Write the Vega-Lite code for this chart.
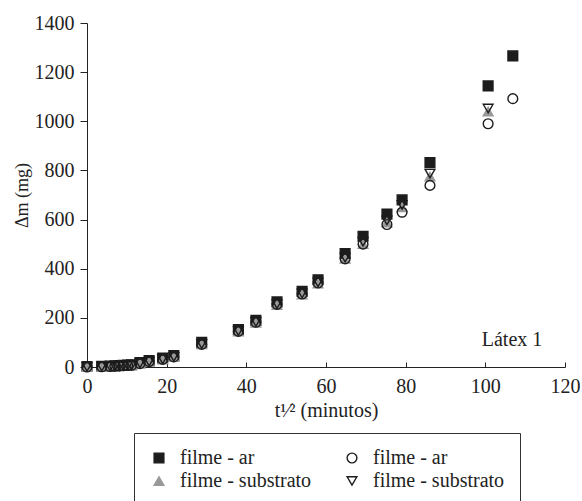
{
  "$schema": "https://vega.github.io/schema/vega-lite/v6.json",
  "autosize": {"type": "none"},
  "width": 478,
  "height": 344,
  "padding": {"left": 87, "top": 23, "right": 17, "bottom": 134},
  "background": "white",
  "config": {
    "view": {"stroke": null},
    "font": "Liberation Serif",
    "axis": {"labelFont": "Liberation Serif", "titleFont": "Liberation Serif", "labelColor": "#222", "titleColor": "#222", "domainColor": "#222", "tickColor": "#222", "grid": false, "titleFontWeight": "normal", "labelFontSize": 20},
    "legend": {"labelFont": "Liberation Serif"},
    "text": {"font": "Liberation Serif"}
  },
  "datasets": {
    "pts": [
      {"x": 0, "y": 2, "s": "a"}, {"x": 3.7, "y": 3, "s": "a"}, {"x": 5.8, "y": 4, "s": "a"}, {"x": 7.0, "y": 5, "s": "a"}, {"x": 8.1, "y": 6, "s": "a"}, {"x": 9.1, "y": 7, "s": "a"}, {"x": 10.2, "y": 8, "s": "a"}, {"x": 11.2, "y": 9, "s": "a"}, {"x": 13.3, "y": 18, "s": "a"}, {"x": 15.6, "y": 26, "s": "a"}, {"x": 19.0, "y": 36, "s": "a"}, {"x": 21.8, "y": 46, "s": "a"}, {"x": 28.8, "y": 100, "s": "a"}, {"x": 38.0, "y": 152, "s": "a"}, {"x": 42.4, "y": 190, "s": "a"}, {"x": 47.7, "y": 265, "s": "a"}, {"x": 54.0, "y": 308, "s": "a"}, {"x": 58.0, "y": 355, "s": "a"}, {"x": 64.8, "y": 462, "s": "a"}, {"x": 69.3, "y": 532, "s": "a"}, {"x": 75.3, "y": 622, "s": "a"}, {"x": 79.1, "y": 680, "s": "a"}, {"x": 86.1, "y": 832, "s": "a"}, {"x": 100.7, "y": 1144, "s": "a"}, {"x": 106.9, "y": 1266, "s": "a"},
      {"x": 0, "y": 0, "s": "c"}, {"x": 3.7, "y": 1, "s": "c"}, {"x": 5.8, "y": 2, "s": "c"}, {"x": 7.0, "y": 3, "s": "c"}, {"x": 8.1, "y": 4, "s": "c"}, {"x": 9.1, "y": 5, "s": "c"}, {"x": 10.2, "y": 6, "s": "c"}, {"x": 11.2, "y": 7, "s": "c"}, {"x": 13.3, "y": 14, "s": "c"}, {"x": 15.6, "y": 21, "s": "c"}, {"x": 19.0, "y": 30, "s": "c"}, {"x": 21.8, "y": 40, "s": "c"}, {"x": 28.8, "y": 92, "s": "c"}, {"x": 38.0, "y": 144, "s": "c"}, {"x": 42.4, "y": 180, "s": "c"}, {"x": 47.7, "y": 252, "s": "c"}, {"x": 54.0, "y": 295, "s": "c"}, {"x": 58.0, "y": 340, "s": "c"}, {"x": 64.8, "y": 440, "s": "c"}, {"x": 69.3, "y": 500, "s": "c"}, {"x": 75.3, "y": 588, "s": "c"}, {"x": 79.1, "y": 650, "s": "c"}, {"x": 86.1, "y": 775, "s": "c"}, {"x": 100.7, "y": 1040, "s": "c"},
      {"x": 0, "y": 0, "s": "d"}, {"x": 3.7, "y": 1, "s": "d"}, {"x": 5.8, "y": 2, "s": "d"}, {"x": 7.0, "y": 3, "s": "d"}, {"x": 8.1, "y": 4, "s": "d"}, {"x": 9.1, "y": 5, "s": "d"}, {"x": 10.2, "y": 6, "s": "d"}, {"x": 11.2, "y": 7, "s": "d"}, {"x": 13.3, "y": 15, "s": "d"}, {"x": 15.6, "y": 22, "s": "d"}, {"x": 19.0, "y": 31, "s": "d"}, {"x": 21.8, "y": 41, "s": "d"}, {"x": 28.8, "y": 93, "s": "d"}, {"x": 38.0, "y": 146, "s": "d"}, {"x": 42.4, "y": 183, "s": "d"}, {"x": 47.7, "y": 256, "s": "d"}, {"x": 54.0, "y": 299, "s": "d"}, {"x": 58.0, "y": 344, "s": "d"}, {"x": 64.8, "y": 445, "s": "d"}, {"x": 69.3, "y": 510, "s": "d"}, {"x": 75.3, "y": 597, "s": "d"}, {"x": 79.1, "y": 660, "s": "d"}, {"x": 86.1, "y": 787, "s": "d"}, {"x": 100.7, "y": 1052, "s": "d"},
      {"x": 0, "y": 0, "s": "b"}, {"x": 3.7, "y": 1, "s": "b"}, {"x": 5.8, "y": 2, "s": "b"}, {"x": 7.0, "y": 3, "s": "b"}, {"x": 8.1, "y": 4, "s": "b"}, {"x": 9.1, "y": 5, "s": "b"}, {"x": 10.2, "y": 6, "s": "b"}, {"x": 11.2, "y": 7, "s": "b"}, {"x": 13.3, "y": 14, "s": "b"}, {"x": 15.6, "y": 22, "s": "b"}, {"x": 19.0, "y": 31, "s": "b"}, {"x": 21.8, "y": 41, "s": "b"}, {"x": 28.8, "y": 92, "s": "b"}, {"x": 38.0, "y": 145, "s": "b"}, {"x": 42.4, "y": 182, "s": "b"}, {"x": 47.7, "y": 255, "s": "b"}, {"x": 54.0, "y": 297, "s": "b"}, {"x": 58.0, "y": 342, "s": "b"}, {"x": 64.8, "y": 440, "s": "b"}, {"x": 69.3, "y": 500, "s": "b"}, {"x": 75.3, "y": 580, "s": "b"}, {"x": 79.1, "y": 630, "s": "b"}, {"x": 86.1, "y": 739, "s": "b"}, {"x": 100.7, "y": 990, "s": "b"}, {"x": 106.9, "y": 1092, "s": "b"}
    ],
    "note": [{"x": 106.7, "y": 109, "label": "Látex 1"}]
  },
  "layer": [
    {
      "data": {"name": "pts"},
      "mark": {"type": "point", "size": 95, "strokeWidth": 1.4, "opacity": 1},
      "encoding": {
        "x": {"field": "x", "type": "quantitative", "scale": {"domain": [0, 120], "nice": false, "zero": false},
          "axis": {"values": [0, 10, 20, 30, 40, 50, 60, 70, 80, 90, 100, 110, 120], "labelExpr": "datum.value % 20 == 0 ? datum.label : ''", "tickSize": -5, "labelPadding": 14, "labelFont": "Liberation Serif", "titleFont": "Liberation Serif", "labelFontSize": 20, "title": "t¹⁄² (minutos)", "titleFontSize": 20, "titlePadding": 4, "labelFlush": false}},
        "y": {"field": "y", "type": "quantitative", "scale": {"domain": [0, 1400], "nice": false, "zero": false},
          "axis": {"values": [0, 100, 200, 300, 400, 500, 600, 700, 800, 900, 1000, 1100, 1200, 1300, 1400], "labelExpr": "datum.value % 200 == 0 ? datum.label : ''", "format": "d", "tickSize": 7, "labelPadding": 6, "labelFont": "Liberation Serif", "titleFont": "Liberation Serif", "labelFontSize": 20, "title": "Δm (mg)", "titleFontSize": 18, "titleX": -65, "titleY": 172, "titleBaseline": "middle", "labelFlush": false}},
        "shape": {"field": "s", "type": "nominal", "scale": {"domain": ["a", "b", "c", "d"], "range": ["square", "circle", "triangle-up", "triangle-down"]},
          "legend": {"title": null, "orient": "none", "legendX": 47, "legendY": 410, "columns": 2, "direction": "horizontal", "strokeColor": "#333", "padding": 15, "columnPadding": 30, "rowPadding": 3, "labelFont": "Liberation Serif", "labelFontSize": 20, "labelOffset": 11, "symbolSize": 95, "symbolStrokeWidth": 1.4, "labelColor": "#222", "labelExpr": "datum.value == 'a' || datum.value == 'b' ? 'filme - ar' : 'filme - substrato'"}},
        "fill": {"field": "s", "type": "nominal", "scale": {"domain": ["a", "b", "c", "d"], "range": ["#1c1c1c", "transparent", "#999999", "transparent"]}},
        "stroke": {"field": "s", "type": "nominal", "scale": {"domain": ["a", "b", "c", "d"], "range": ["#1c1c1c", "#1c1c1c", "#999999", "#1c1c1c"]}}
      }
    },
    {
      "data": {"name": "note"},
      "mark": {"type": "text", "font": "Liberation Serif", "fontSize": 20, "color": "#222", "align": "center", "baseline": "middle"},
      "encoding": {
        "x": {"field": "x", "type": "quantitative"},
        "y": {"field": "y", "type": "quantitative"},
        "text": {"field": "label"}
      }
    }
  ]
}
